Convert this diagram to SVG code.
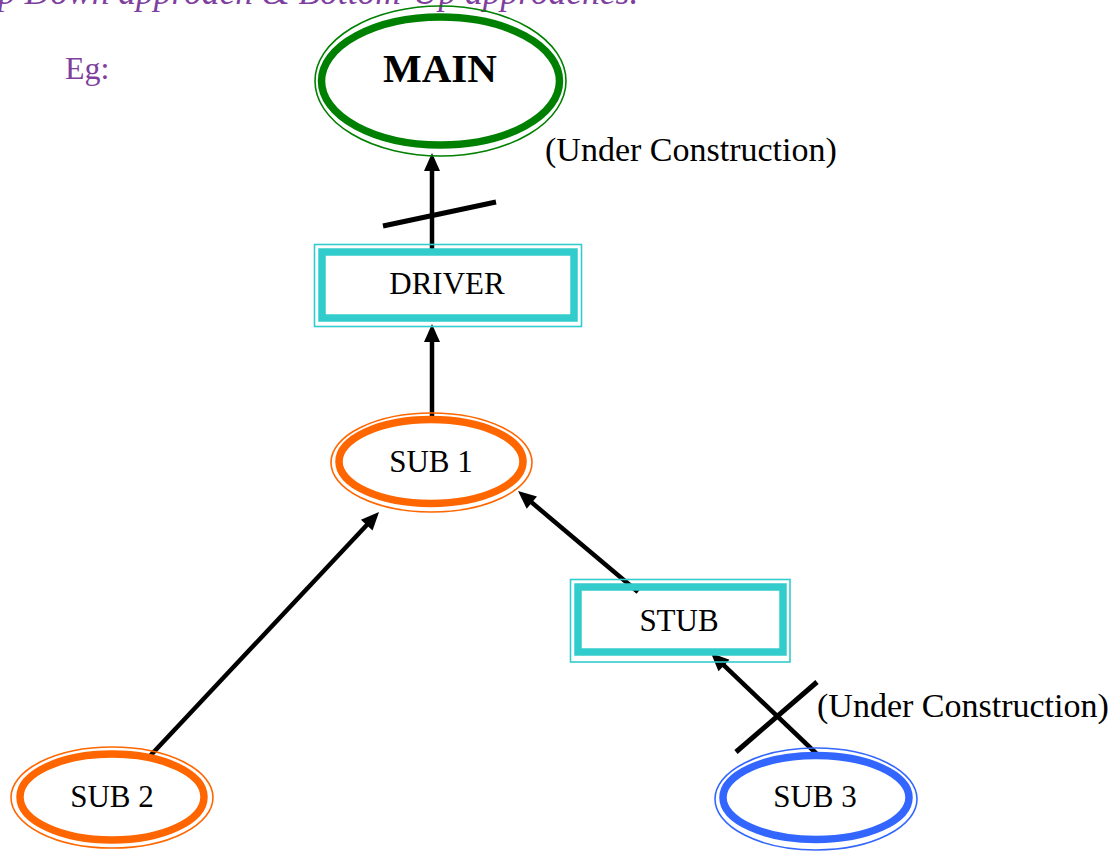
<svg xmlns="http://www.w3.org/2000/svg" width="1120" height="852" viewBox="0 0 1120 852">
<defs>
<style>
.bg{fill:#ffffff}
.title{font-family:"Liberation Serif","Times New Roman",serif;font-style:italic;font-size:35.5px;fill:#7f3f9f}
.eg{font-family:"Liberation Serif","Times New Roman",serif;font-size:32px;fill:#7f3f9f}
.lbl{font-family:"Liberation Serif","Times New Roman",serif;font-size:31px;fill:#000;text-anchor:middle}
.main{font-family:"Liberation Serif","Times New Roman",serif;font-size:41px;font-weight:bold;fill:#000;text-anchor:middle}
.note{font-family:"Liberation Serif","Times New Roman",serif;font-size:34px;fill:#000}
.thick{fill:none;stroke-width:7.5}
.thin{fill:none;stroke-width:1.6}
.green{stroke:#008000}
.orange{stroke:#ff6600}
.cyan{stroke:#33cccc}
.blue{stroke:#3366ff}
.conn{stroke:#000;stroke-width:4.5;fill:none}
.cross{stroke:#000;stroke-width:5;fill:none}
</style>
<marker id="arrow" markerUnits="userSpaceOnUse" markerWidth="18" markerHeight="16" refX="8" refY="8" orient="auto" overflow="visible">
<path d="M0,0 L18,8 L0,16 Z" fill="#000"/>
</marker>
</defs>
<rect class="bg" x="0" y="0" width="1120" height="852"/>
<text class="title" x="-2" y="4">p Down approach &amp; Bottom-Up approaches.</text>
<text class="eg" x="65" y="79">Eg:</text>

<g id="connectors">
<line class="conn" x1="432" y1="249" x2="432" y2="163" marker-end="url(#arrow)"/>
<line class="cross" x1="383" y1="226" x2="496" y2="202"/>
<line class="conn" x1="432" y1="416" x2="432" y2="334" marker-end="url(#arrow)"/>
<line class="conn" x1="150" y1="756" x2="372.2" y2="519.3" marker-end="url(#arrow)"/>
<line class="conn" x1="638" y1="592" x2="525.7" y2="497.4" marker-end="url(#arrow)"/>
<line class="conn" x1="820" y1="757" x2="718.2" y2="659.9" marker-end="url(#arrow)"/>
<line class="cross" x1="736" y1="752" x2="817" y2="682"/>
</g>

<g id="main">
<ellipse class="thin green" cx="440.5" cy="81" rx="125.5" ry="75"/>
<ellipse class="thick green" cx="440.5" cy="81" rx="119" ry="64"/>
<text class="main" x="440" y="82">MAIN</text>
</g>
<text class="note" x="545" y="161">(Under Construction)</text>

<g id="driver">
<rect class="thin cyan" x="314.5" y="244.5" width="267" height="82"/>
<rect class="thick cyan" x="322" y="252" width="252" height="66"/>
<text class="lbl" x="447" y="294">DRIVER</text>
</g>

<g id="sub1">
<ellipse class="thin orange" cx="431.5" cy="462.5" rx="100.5" ry="49.5"/>
<ellipse class="thick orange" cx="431" cy="461.5" rx="92" ry="42"/>
<text class="lbl" x="431" y="472">SUB 1</text>
</g>

<g id="stub">
<rect class="thin cyan" x="570.5" y="579.5" width="219.5" height="82.5"/>
<rect class="thick cyan" x="578" y="587" width="205" height="65"/>
<text class="lbl" x="679" y="631">STUB</text>
</g>

<g id="sub2">
<ellipse class="thin orange" cx="112" cy="797.5" rx="101" ry="50.5"/>
<ellipse class="thick orange" cx="112" cy="797" rx="92" ry="43"/>
<text class="lbl" x="112" y="807">SUB 2</text>
</g>

<g id="sub3">
<ellipse class="thin blue" cx="816" cy="799" rx="101" ry="51"/>
<ellipse class="thick blue" cx="816" cy="797.5" rx="93" ry="42"/>
<text class="lbl" x="815" y="807">SUB 3</text>
</g>
<text class="note" x="817" y="717">(Under Construction)</text>
</svg>
